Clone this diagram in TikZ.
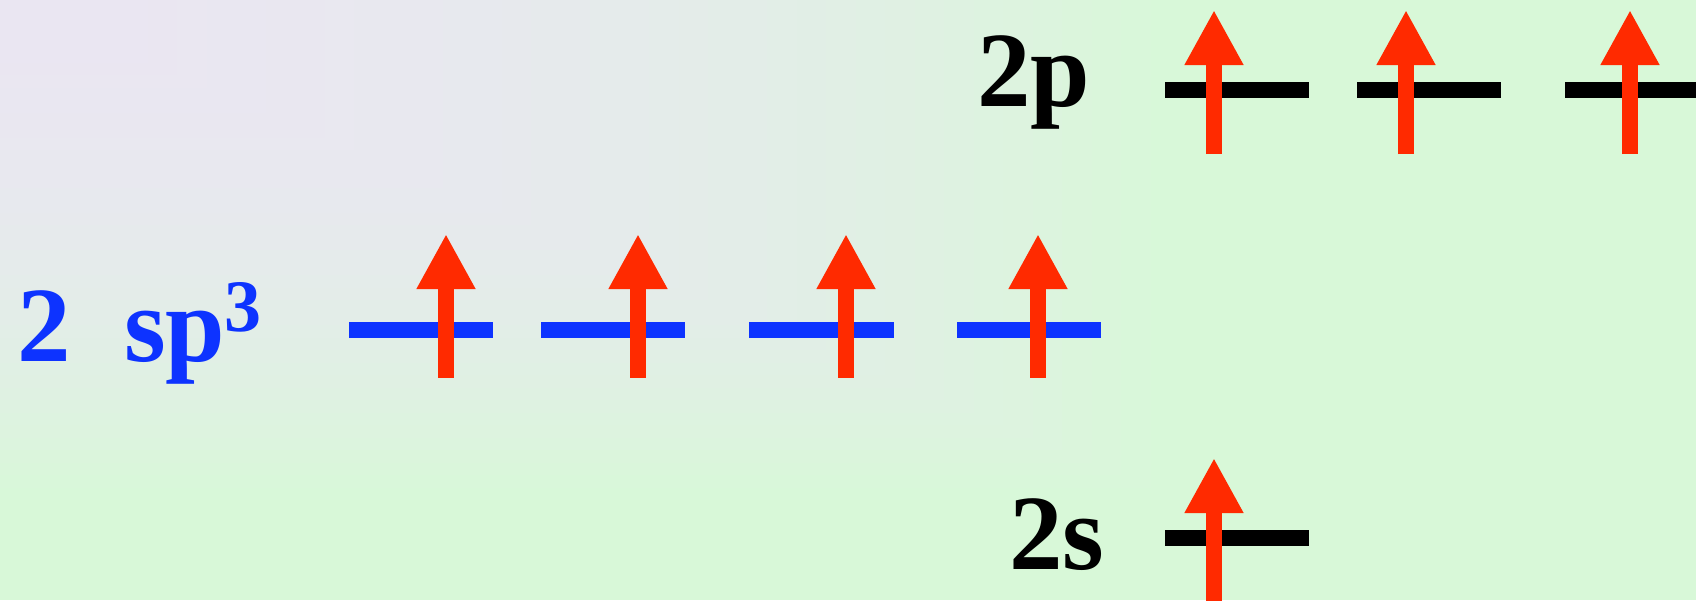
\documentclass[tikz,border=0pt]{standalone}
\usepackage{fontspec}
\setmainfont{Liberation Serif}
\usetikzlibrary{arrows.meta}
\definecolor{bgg}{RGB}{216,248,216}
\definecolor{bgl}{RGB}{234,230,242}
\definecolor{eRed}{RGB}{255,42,0}
\definecolor{lvBlue}{RGB}{13,51,255}
\begin{document}
\begin{tikzpicture}[x=1pt,y=-1pt,
  level/.style={line width=16pt},
  spin/.style={eRed,line width=16pt,-{Triangle[length=55pt,width=55pt]}},
  lab/.style={anchor=base west,inner sep=0pt,font=\fontsize{107}{107}\selectfont\bfseries}]
\fill[bgg] (0,0) rectangle (1696,600);
\foreach \i in {0,...,39} {
  \pgfmathsetmacro\s{1-\i/40}
  \pgfmathsetmacro\t{\s-0.0125}
  \pgfmathsetmacro\p{100*(1-\t*\t)}
  \fill[bgl!\p!bgg] (0,0) rectangle (1180*\s,500*\s);
}
\useasboundingbox (0,0) rectangle (1696,600);

% labels
\node[lab,lvBlue] (two) at (17,361.7) {2};
\node[lab,lvBlue] (sp) at (124,361.7) {sp};
\node[anchor=base west,inner sep=0pt,font=\fontsize{74}{74}\selectfont\bfseries,lvBlue] (sup) at (224,331) {3};
\node[lab] (lp) at (977,106) {2p};
\node[lab] (ls) at (1009,569) {2s};

% sp3 levels
\foreach \a/\b [count=\i] in {349/493,541/685,749/894,957/1101}
  \draw[level,lvBlue] (\a,329.7) coordinate (h\i a) -- (\b,329.7) coordinate (h\i b);
% 2p levels
\foreach \a/\b [count=\i] in {1165/1309,1357/1501,1565/1700}
  \draw[level,black] (\a,89.7) coordinate (p\i a) -- (\b,89.7) coordinate (p\i b);
% 2s level
\draw[level,black] (1165,538) coordinate (s1a) -- (1309,538) coordinate (s1b);

% spins
\foreach \x [count=\i] in {446,638,846,1038} {
  \coordinate (hb\i) at (\x,377.7);
  \coordinate (ht\i) at (\x,234);
  \draw[spin] (hb\i) -- (ht\i);
}
\foreach \x [count=\i] in {1214,1406,1630} {
  \coordinate (pb\i) at (\x,154);
  \coordinate (pt\i) at (\x,10);
  \draw[spin] (pb\i) -- (pt\i);
}
\coordinate (sb1) at (1214,610);
\coordinate (st1) at (1214,458);
\draw[spin] (sb1) -- (st1);
\end{tikzpicture}
\end{document}
